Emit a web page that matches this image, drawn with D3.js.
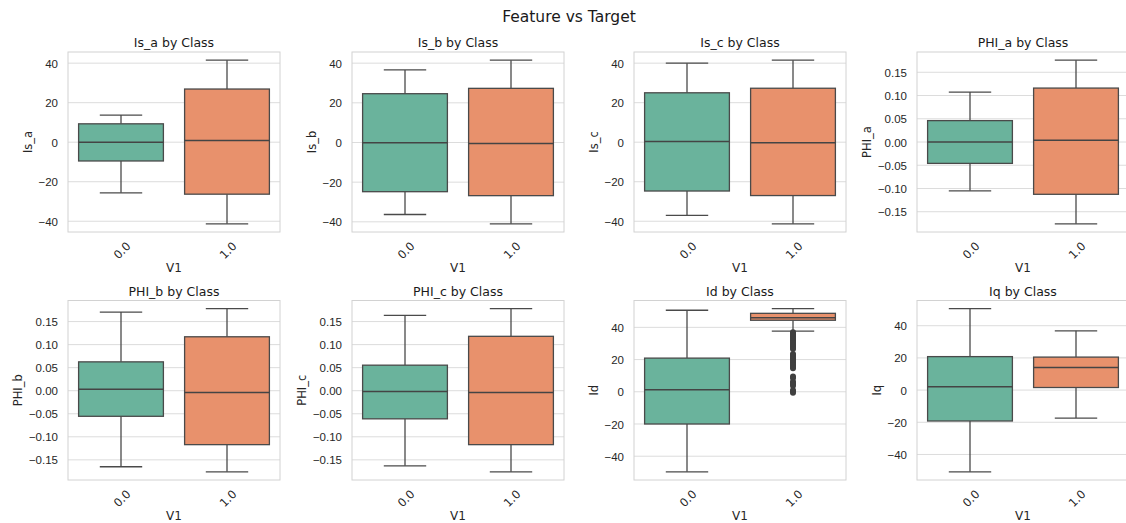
<!DOCTYPE html>
<html>
<head>
<meta charset="utf-8">
<script src="https://cdn.jsdelivr.net/npm/d3@7"></script>
<style>
  body { margin: 0; background: #fff; }
  svg { font-family: "DejaVu Sans", sans-serif; }
  .grid line { stroke: #dcdcdc; stroke-width: 1; }
  .frame { fill: none; stroke: #d2d2d2; stroke-width: 1; }
  .tick text { fill: #262626; font-size: 11.5px; }
  .axis path, .axis line { display: none; }
  .subtitle { font-size: 12.5px; fill: #1a1a1a; text-anchor: middle; }
  .axislabel { font-size: 11.5px; fill: #262626; text-anchor: middle; }
  .box { stroke: #4a4a4a; stroke-width: 1.3; }
  .whisker { stroke: #4a4a4a; stroke-width: 1.3; }
  .median { stroke: #444; stroke-width: 1.5; }
  .flier { fill: #404040; }
</style>
</head>
<body>
<svg id="chart" width="1126" height="523"></svg>
<script>
// values
const features = ["Is_a", "Is_b", "Is_c", "PHI_a", "PHI_b", "PHI_c", "Id", "Iq"];
const classes = ["0.0", "1.0"];
const whiskerLow  = [[-25.6, -41.3], [-36.3, -41], [-37, -41.3], [-0.105, -0.176], [-0.165, -0.176], [-0.163, -0.176], [-49.7, 37.6], [-50.8, -17.4]];
const q1          = [[-9.5, -26.3], [-24.8, -26.8], [-24.7, -27], [-0.046, -0.1125], [-0.0555, -0.117], [-0.061, -0.117], [-20, 44.4], [-19.2, 1.6]];
const medians     = [[0, 0.8], [-0.1, -0.5], [0.3, -0.3], [0, 0.004], [0.003, -0.004], [-0.0015, -0.004], [1.2, 46], [2, 14]];
const q3          = [[9.3, 26.9], [24.6, 27.3], [25, 27.3], [0.046, 0.116], [0.0626, 0.117], [0.0554, 0.118], [20.9, 48.7], [20.8, 20.5]];
const whiskerHigh = [[13.7, 41.5], [36.6, 41.5], [40, 41.5], [0.1075, 0.176], [0.1706, 0.178], [0.1634, 0.178], [50.6, 51.6], [50.6, 36.8]];
// outliers of Id for class 1.0
const idOutliers = [37, 36.2, 35.4, 34.6, 33.8, 33, 32.2, 31.4, 30.6, 29.8, 29, 28.2, 27.4, 26.6,
                    23.5, 22.6, 21.8, 21, 20.2, 19.4, 18.6, 17.8, 17, 16.2, 15.4, 14.6,
                    9.5, 8.5, 6.2, 5.4, 4.6, 3.8, 1, 0.2, -0.6];
const currentTicks = [-40, -20, 0, 20, 40];
const fluxTicks = [-0.15, -0.10, -0.05, 0.00, 0.05, 0.10, 0.15];

const colors = ["#6ab39c", "#e8916c"];
const frameLefts = [68, 352, 634, 917];
const rows = [[52, 232], [300.5, 480]];
const frameW = 212;

let svg = d3.select("#chart");
svg.append("text").attr("x", 569).attr("y", 22).attr("text-anchor", "middle")
    .style("font-size", "15.5px").style("fill", "#1a1a1a").text("Feature vs Target");

features.forEach(function(name, i){
    let left = frameLefts[i % 4];
    let top = rows[Math.floor(i / 4)][0], bottom = rows[Math.floor(i / 4)][1];
    let isFlux = name.startsWith("PHI");
    let ticks = isFlux ? fluxTicks : currentTicks;

    let all = whiskerLow[i].concat(whiskerHigh[i]);
    if (name === "Id") all = all.concat(idOutliers);
    let lo = d3.min(all), hi = d3.max(all), pad = (hi - lo) * 0.05;
    let y = d3.scaleLinear().domain([lo - pad, hi + pad]).range([bottom, top]);
    let x = d3.scaleBand().domain(classes).range([left, left + frameW]);

    let g = svg.append("g");
    g.append("g").attr("class", "grid").selectAll("line").data(ticks).join("line")
        .attr("x1", left).attr("x2", left + frameW)
        .attr("y1", d => y(d)).attr("y2", d => y(d));
    g.append("rect").attr("class", "frame").attr("x", left).attr("y", top)
        .attr("width", frameW).attr("height", bottom - top);

    let yAxis = d3.axisLeft(y).tickValues(ticks).tickSize(0).tickPadding(10)
        .tickFormat(isFlux ? d3.format(".2f") : d3.format("d"));
    let ya = g.append("g").attr("class", "axis").attr("transform", `translate(${left},0)`).call(yAxis);
    ya.selectAll(".tick text").attr("dy", "0.35em");
    let maxW = d3.max(ya.selectAll(".tick text").nodes(), n => n.getComputedTextLength());
    g.append("text").attr("class", "axislabel")
        .attr("transform", `translate(${left - 10 - maxW - 11},${(top + bottom) / 2}) rotate(-90)`)
        .attr("dy", "0.35em").text(name);

    // rotated category labels
    classes.forEach(function(c){
        let cx = x(c) + x.bandwidth() / 2 + 1;
        g.append("text").attr("class", "axislabel")
            .attr("transform", `translate(${cx},${bottom + 18.5}) rotate(-45)`)
            .attr("dy", "0.35em").text(c);
    });
    g.append("text").attr("class", "axislabel").attr("x", left + frameW / 2).attr("y", bottom + 40)
        .style("font-size", "12px").text("V1");
    g.append("text").attr("class", "subtitle").attr("x", left + frameW / 2).attr("y", top - 5)
        .text(name + " by Class");

    let bw = x.bandwidth() * 0.8, capW = bw * 0.5;
    classes.forEach(function(c, k){
        let cx = x(c) + x.bandwidth() / 2;
        g.append("line").attr("class", "whisker").attr("x1", cx).attr("x2", cx)
            .attr("y1", y(whiskerHigh[i][k])).attr("y2", y(q3[i][k]));
        g.append("line").attr("class", "whisker").attr("x1", cx).attr("x2", cx)
            .attr("y1", y(q1[i][k])).attr("y2", y(whiskerLow[i][k]));
        [whiskerHigh[i][k], whiskerLow[i][k]].forEach(function(v){
            g.append("line").attr("class", "whisker").attr("x1", cx - capW / 2).attr("x2", cx + capW / 2)
                .attr("y1", y(v)).attr("y2", y(v));
        });
        g.append("rect").attr("class", "box").attr("fill", colors[k])
            .attr("x", cx - bw / 2).attr("width", bw)
            .attr("y", y(q3[i][k])).attr("height", y(q1[i][k]) - y(q3[i][k]));
        g.append("line").attr("class", "median").attr("x1", cx - bw / 2).attr("x2", cx + bw / 2)
            .attr("y1", y(medians[i][k])).attr("y2", y(medians[i][k]));
        if (name === "Id" && k === 1) {
            g.selectAll(".flier").data(idOutliers).join("circle").attr("class", "flier")
                .attr("cx", cx).attr("cy", d => y(d)).attr("r", 3);
        }
    });
});
</script>
</body>
</html>
